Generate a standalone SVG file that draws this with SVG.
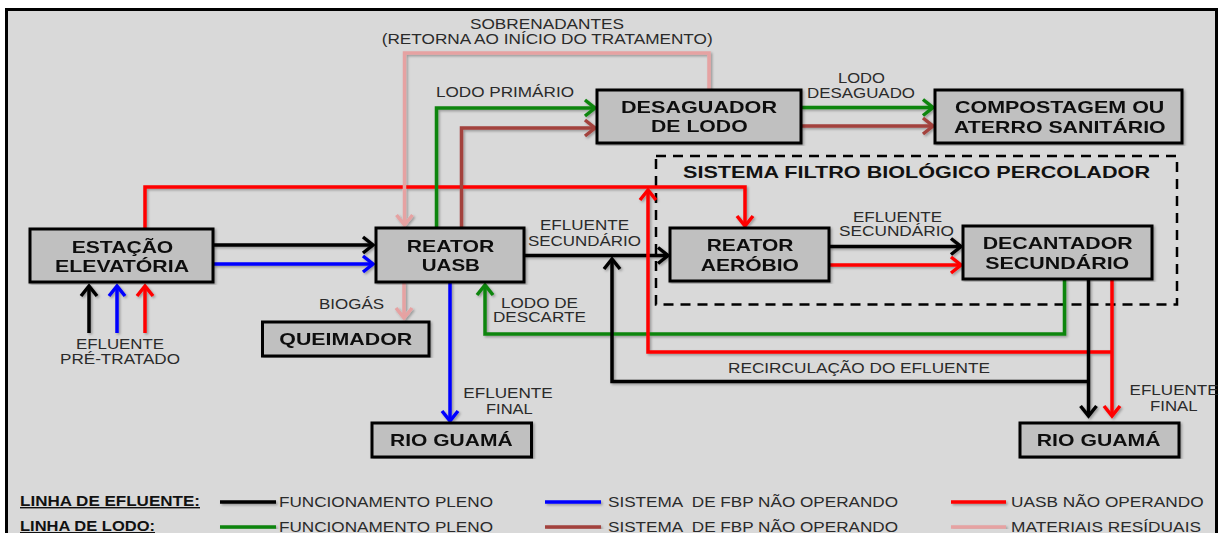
<svg xmlns="http://www.w3.org/2000/svg" width="1220" height="533" viewBox="0 0 1220 533">
<style>
.box{fill:#c0c0c0;stroke:#000;stroke-width:3}
.nt{font-family:"Liberation Sans",Arial,sans-serif;font-weight:bold;font-size:16.5px;fill:#111}
.lb{font-family:"Liberation Sans",Arial,sans-serif;font-size:14px;fill:#2a2a2a}
.lgb{font-family:"Liberation Sans",Arial,sans-serif;font-size:14px;font-weight:bold;fill:#111;text-decoration:underline}
.ln{fill:none;stroke-width:3.5}
.k{stroke:#000}.b{stroke:#0000ff}.r{stroke:#ff0000}.g{stroke:#0b850b}.br{stroke:#a3423d}.p{stroke:#e6a2a2}
</style>
<defs>
<filter id="sh" x="-5%" y="-5%" width="110%" height="110%">
<feDropShadow dx="1.5" dy="1.5" stdDeviation="1" flood-color="#000" flood-opacity="0.3"/>
</filter>
<marker id="ak" markerUnits="userSpaceOnUse" markerWidth="16" markerHeight="22" viewBox="-3 -3 16 22" refX="10" refY="8" orient="auto" overflow="visible"><path d="M0,0 L10,8 L0,16" fill="none" stroke="#000" stroke-width="3.5"/></marker>
<marker id="ab" markerUnits="userSpaceOnUse" markerWidth="16" markerHeight="22" viewBox="-3 -3 16 22" refX="10" refY="8" orient="auto" overflow="visible"><path d="M0,0 L10,8 L0,16" fill="none" stroke="#0000ff" stroke-width="3.5"/></marker>
<marker id="ar" markerUnits="userSpaceOnUse" markerWidth="16" markerHeight="22" viewBox="-3 -3 16 22" refX="10" refY="8" orient="auto" overflow="visible"><path d="M0,0 L10,8 L0,16" fill="none" stroke="#ff0000" stroke-width="3.5"/></marker>
<marker id="ag" markerUnits="userSpaceOnUse" markerWidth="16" markerHeight="22" viewBox="-3 -3 16 22" refX="10" refY="8" orient="auto" overflow="visible"><path d="M0,0 L10,8 L0,16" fill="none" stroke="#0b850b" stroke-width="3.5"/></marker>
<marker id="abr" markerUnits="userSpaceOnUse" markerWidth="16" markerHeight="22" viewBox="-3 -3 16 22" refX="10" refY="8" orient="auto" overflow="visible"><path d="M0,0 L10,8 L0,16" fill="none" stroke="#a3423d" stroke-width="3.5"/></marker>
<marker id="ap" markerUnits="userSpaceOnUse" markerWidth="16" markerHeight="22" viewBox="-3 -3 16 22" refX="10" refY="8" orient="auto" overflow="visible"><path d="M0,0 L10,8 L0,16" fill="none" stroke="#e6a2a2" stroke-width="3.5"/></marker>
</defs>
<rect x="0" y="0" width="1220" height="533" fill="#fff"/>
<rect x="6.5" y="9.5" width="1210" height="540" fill="#d9d9d9" stroke="#000" stroke-width="3"/>

<g id="subsystem">
<rect x="656" y="156" width="521" height="148.5" fill="none" stroke="#000" stroke-width="2.5" stroke-dasharray="10 7"/>
<text class="nt" x="683" y="178.3" textLength="467" lengthAdjust="spacingAndGlyphs">SISTEMA FILTRO BIOLÓGICO PERCOLADOR</text>
</g>

<g id="connectors" filter="url(#sh)">
<path class="ln k" d="M89,333 V286" marker-end="url(#ak)"/>
<path class="ln b" d="M117,333 V286" marker-end="url(#ab)"/>
<path class="ln r" d="M145,333 V286" marker-end="url(#ar)"/>
<path class="ln k" d="M213,245 H373" marker-end="url(#ak)"/>
<path class="ln b" d="M213,264 H373" marker-end="url(#ab)"/>
<path class="ln r" d="M145,229 V187 H745 V226" marker-end="url(#ar)"/>
<path class="ln g" d="M436.5,228 V108 H595" marker-end="url(#ag)"/>
<path class="ln br" d="M461.5,228 V128 H595" marker-end="url(#abr)"/>
<path class="ln g" d="M801,107.5 H933" marker-end="url(#ag)"/>
<path class="ln br" d="M801,126 H933" marker-end="url(#abr)"/>
<path class="ln p" d="M709,90 V53 H404.5 V225" marker-end="url(#ap)"/>
<path class="ln p" d="M404,282 V318" marker-end="url(#ap)"/>
<path class="ln k" d="M524,255.5 H668" marker-end="url(#ak)"/>
<path class="ln k" d="M829,246.5 H961" marker-end="url(#ak)"/>
<path class="ln r" d="M829,265 H961" marker-end="url(#ar)"/>
<path class="ln g" d="M1064.5,279 V334 H485 V285" marker-end="url(#ag)"/>
<path class="ln k" d="M1088.5,381.5 H612 V259" marker-end="url(#ak)"/>
<path class="ln r" d="M1112,352 H648 V190" marker-end="url(#ar)"/>
<path class="ln k" d="M1088.5,279 V416" marker-end="url(#ak)"/>
<path class="ln r" d="M1112,279 V416" marker-end="url(#ar)"/>
<path class="ln b" d="M450,282 V421" marker-end="url(#ab)"/>
</g>

<g id="labels">
<text class="lb" x="470" y="29.3" textLength="154" lengthAdjust="spacingAndGlyphs">SOBRENADANTES</text>
<text class="lb" x="381.7" y="43.5" textLength="331" lengthAdjust="spacingAndGlyphs">(RETORNA AO INÍCIO DO TRATAMENTO)</text>
<text class="lb" x="436" y="97" textLength="138" lengthAdjust="spacingAndGlyphs">LODO PRIMÁRIO</text>
<text class="lb" x="838" y="83" textLength="47" lengthAdjust="spacingAndGlyphs">LODO</text>
<text class="lb" x="807" y="98" textLength="108" lengthAdjust="spacingAndGlyphs">DESAGUADO</text>
<text class="lb" x="540" y="230" textLength="89" lengthAdjust="spacingAndGlyphs">EFLUENTE</text>
<text class="lb" x="528" y="245.7" textLength="113" lengthAdjust="spacingAndGlyphs">SECUNDÁRIO</text>
<text class="lb" x="853" y="221.7" textLength="89" lengthAdjust="spacingAndGlyphs">EFLUENTE</text>
<text class="lb" x="839" y="236" textLength="115" lengthAdjust="spacingAndGlyphs">SECUNDÁRIO</text>
<text class="lb" x="319" y="308.5" textLength="65" lengthAdjust="spacingAndGlyphs">BIOGÁS</text>
<text class="lb" x="501" y="307.7" textLength="77" lengthAdjust="spacingAndGlyphs">LODO DE</text>
<text class="lb" x="493" y="321.7" textLength="93" lengthAdjust="spacingAndGlyphs">DESCARTE</text>
<text class="lb" x="76" y="349" textLength="88" lengthAdjust="spacingAndGlyphs">EFLUENTE</text>
<text class="lb" x="60" y="364" textLength="120" lengthAdjust="spacingAndGlyphs">PRÉ-TRATADO</text>
<text class="lb" x="728" y="372.7" textLength="262" lengthAdjust="spacingAndGlyphs">RECIRCULAÇÃO DO EFLUENTE</text>
<text class="lb" x="463.3" y="398.3" textLength="89.4" lengthAdjust="spacingAndGlyphs">EFLUENTE</text>
<text class="lb" x="486" y="414" textLength="46.7" lengthAdjust="spacingAndGlyphs">FINAL</text>
<text class="lb" x="1129.6" y="395" textLength="89" lengthAdjust="spacingAndGlyphs">EFLUENTE</text>
<text class="lb" x="1150" y="410.7" textLength="47.6" lengthAdjust="spacingAndGlyphs">FINAL</text>
</g>

<g id="estacao-elevatoria" filter="url(#sh)">
<rect class="box" x="30" y="229" width="183" height="53"/>
<text class="nt" x="71.7" y="252.7" textLength="101.6" lengthAdjust="spacingAndGlyphs">ESTAÇÃO</text>
<text class="nt" x="55" y="272.3" textLength="134" lengthAdjust="spacingAndGlyphs">ELEVATÓRIA</text>
</g>
<g id="reator-uasb" filter="url(#sh)">
<rect class="box" x="376" y="228" width="148" height="54"/>
<text class="nt" x="406.7" y="251.7" textLength="87.6" lengthAdjust="spacingAndGlyphs">REATOR</text>
<text class="nt" x="421.7" y="270.7" textLength="58.3" lengthAdjust="spacingAndGlyphs">UASB</text>
</g>
<g id="queimador" filter="url(#sh)">
<rect class="box" x="262.5" y="322" width="166.5" height="34"/>
<text class="nt" x="279.3" y="345" textLength="133" lengthAdjust="spacingAndGlyphs">QUEIMADOR</text>
</g>
<g id="rio-guama-1" filter="url(#sh)">
<rect class="box" x="372" y="423" width="159.5" height="34"/>
<text class="nt" x="390" y="445.7" textLength="122.7" lengthAdjust="spacingAndGlyphs">RIO GUAMÁ</text>
</g>
<g id="desaguador" filter="url(#sh)">
<rect class="box" x="597" y="90" width="204" height="53"/>
<text class="nt" x="621" y="112.7" textLength="156" lengthAdjust="spacingAndGlyphs">DESAGUADOR</text>
<text class="nt" x="651" y="131.7" textLength="96.7" lengthAdjust="spacingAndGlyphs">DE LODO</text>
</g>
<g id="compostagem" filter="url(#sh)">
<rect class="box" x="935" y="90" width="247" height="53"/>
<text class="nt" x="955" y="113.3" textLength="209.3" lengthAdjust="spacingAndGlyphs">COMPOSTAGEM OU</text>
<text class="nt" x="954" y="132.7" textLength="211.7" lengthAdjust="spacingAndGlyphs">ATERRO SANITÁRIO</text>
</g>
<g id="reator-aerobio" filter="url(#sh)">
<rect class="box" x="670" y="228" width="159" height="53"/>
<text class="nt" x="706.7" y="251" textLength="86.7" lengthAdjust="spacingAndGlyphs">REATOR</text>
<text class="nt" x="700.7" y="270.7" textLength="98.3" lengthAdjust="spacingAndGlyphs">AERÓBIO</text>
</g>
<g id="decantador" filter="url(#sh)">
<rect class="box" x="963" y="226" width="189" height="53"/>
<text class="nt" x="982.7" y="249" textLength="150" lengthAdjust="spacingAndGlyphs">DECANTADOR</text>
<text class="nt" x="985.3" y="269" textLength="144" lengthAdjust="spacingAndGlyphs">SECUNDÁRIO</text>
</g>
<g id="rio-guama-2" filter="url(#sh)">
<rect class="box" x="1020" y="423" width="159" height="34"/>
<text class="nt" x="1036.8" y="445.7" textLength="123.7" lengthAdjust="spacingAndGlyphs">RIO GUAMÁ</text>
</g>

<g id="legend">
<text class="lgb" x="20" y="506" textLength="180" lengthAdjust="spacingAndGlyphs">LINHA DE EFLUENTE:</text>
<text class="lgb" x="20" y="531" textLength="135" lengthAdjust="spacingAndGlyphs">LINHA DE LODO:</text>
<g filter="url(#sh)">
<path class="ln k" d="M220,502 H276"/>
<path class="ln g" d="M220,527 H276"/>
<path class="ln b" d="M545,502 H601"/>
<path class="ln br" d="M545,527 H601"/>
<path class="ln r" d="M951,502 H1006"/>
<path class="ln p" d="M951,527 H1006"/>
</g>
<text class="lb" x="279" y="506.5" textLength="214" lengthAdjust="spacingAndGlyphs">FUNCIONAMENTO PLENO</text>
<text class="lb" x="279" y="531.5" textLength="214" lengthAdjust="spacingAndGlyphs">FUNCIONAMENTO PLENO</text>
<text class="lb" x="608" y="506.5" textLength="290" lengthAdjust="spacingAndGlyphs" style="white-space:pre">SISTEMA  DE FBP NÃO OPERANDO</text>
<text class="lb" x="608" y="531.5" textLength="290" lengthAdjust="spacingAndGlyphs" style="white-space:pre">SISTEMA  DE FBP NÃO OPERANDO</text>
<text class="lb" x="1011" y="506.5" textLength="192.6" lengthAdjust="spacingAndGlyphs">UASB NÃO OPERANDO</text>
<text class="lb" x="1011" y="531.5" textLength="190" lengthAdjust="spacingAndGlyphs">MATERIAIS RESÍDUAIS</text>
</g>
</svg>
